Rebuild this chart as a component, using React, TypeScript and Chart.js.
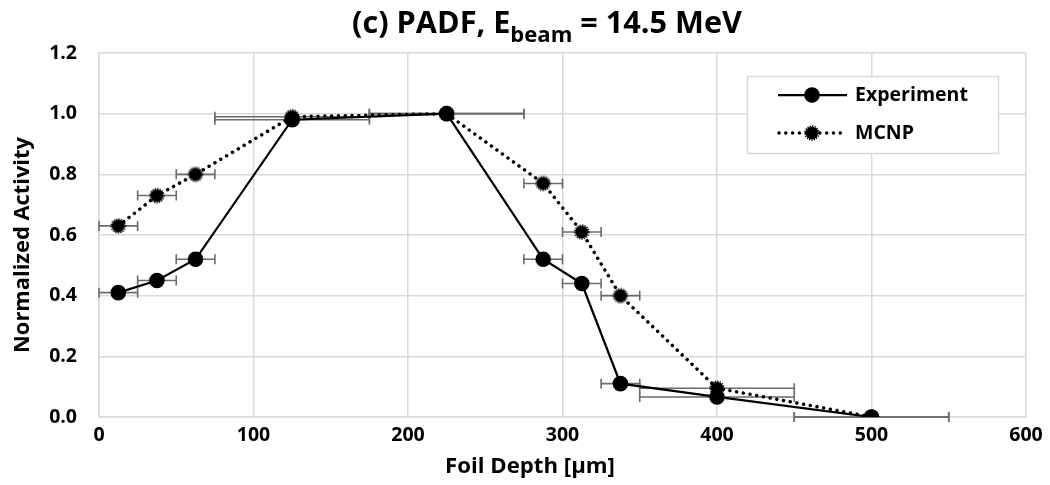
import React, { useEffect, useRef } from 'react';
import { Chart, registerables } from 'chart.js';

Chart.register(...registerables);

const depth = [12.5, 37.5, 62.5, 125, 225, 287.5, 312.5, 337.5, 400, 500];
const depthErr = [12.5, 12.5, 12.5, 50, 50, 12.5, 12.5, 12.5, 50, 50];
const experiment = [0.41, 0.45, 0.52, 0.98, 1.0, 0.52, 0.44, 0.11, 0.066, 0.0];
const mcnp = [0.63, 0.73, 0.8, 0.99, 1.0, 0.77, 0.61, 0.4, 0.095, 0.0];
const seriesNames = ['Experiment', 'MCNP'];
const titleParts = ['(c) PADF, E', 'beam', ' = 14.5 MeV'];
const xAxisTitle = 'Foil Depth [µm]';
const yAxisTitle = 'Normalized Activity';

const FONT = '"Open Sans", Lato, sans-serif';
const ERR_COLOR = '#6b6b6b';
const GRID = '#d9d9d9';
const DOT_DASH = [0.01, 6.8];

function makeJaggedMarker(): HTMLCanvasElement {
  const c = document.createElement('canvas');
  c.width = 18;
  c.height = 18;
  const g = c.getContext('2d')!;
  g.fillStyle = '#000';
  g.beginPath();
  g.arc(9, 9, 6.3, 0, Math.PI * 2);
  g.fill();
  g.strokeStyle = '#000';
  g.lineWidth = 1.6;
  g.setLineDash([1.3, 1.2]);
  g.beginPath();
  g.arc(9, 9, 6.9, 0, Math.PI * 2);
  g.stroke();
  return c;
}

function fitSize(ctx: CanvasRenderingContext2D, text: string, target: number): number {
  ctx.font = `bold 20px ${FONT}`;
  const w = ctx.measureText(text).width;
  return (20 * target) / w;
}

export default function App() {
  const ref = useRef<HTMLCanvasElement | null>(null);

  useEffect(() => {
    if (!ref.current) return;
    const marker = makeJaggedMarker();

    const errorBars = {
      id: 'errorBars',
      beforeDatasetsDraw(chart: any) {
        const ctx = chart.ctx;
        const xs = chart.scales.x;
        const ys = chart.scales.y;
        ctx.save();
        ctx.strokeStyle = ERR_COLOR;
        ctx.lineWidth = 1.6;
        [experiment, mcnp].forEach((vals) => {
          vals.forEach((v, i) => {
            const y = ys.getPixelForValue(v);
            const x1 = xs.getPixelForValue(depth[i] - depthErr[i]);
            const x2 = xs.getPixelForValue(depth[i] + depthErr[i]);
            ctx.beginPath();
            ctx.moveTo(x1, y);
            ctx.lineTo(x2, y);
            ctx.moveTo(x1, y - 5);
            ctx.lineTo(x1, y + 5);
            ctx.moveTo(x2, y - 5);
            ctx.lineTo(x2, y + 5);
            ctx.stroke();
          });
        });
        ctx.restore();
      },
    };

    const decorations = {
      id: 'decorations',
      afterDraw(chart: any) {
        const ctx = chart.ctx as CanvasRenderingContext2D;
        ctx.save();
        ctx.fillStyle = '#000';
        ctx.textBaseline = 'alphabetic';
        // Title (composite, fitted to the reference width)
        const measureAt = (s: number) => {
          ctx.font = `bold ${s}px ${FONT}`;
          const a = ctx.measureText(titleParts[0]).width;
          const c = ctx.measureText(titleParts[2]).width;
          ctx.font = `bold ${s * 0.72}px ${FONT}`;
          const b = ctx.measureText(titleParts[1]).width;
          return [a, b, c];
        };
        const base = measureAt(20);
        const bigSize = (20 * 390) / (base[0] + base[1] + base[2]);
        const [w1, w2, w3] = measureAt(bigSize);
        const big = `bold ${bigSize}px ${FONT}`;
        const small = `bold ${bigSize * 0.72}px ${FONT}`;
        let tx = 547 - (w1 + w2 + w3) / 2;
        ctx.textAlign = 'left';
        ctx.font = big;
        ctx.fillText(titleParts[0], tx, 33);
        tx += w1;
        ctx.font = small;
        ctx.fillText(titleParts[1], tx, 42);
        tx += w2;
        ctx.font = big;
        ctx.fillText(titleParts[2], tx, 33);

        // Axis titles
        ctx.textAlign = 'center';
        ctx.textBaseline = 'middle';
        ctx.font = `bold ${fitSize(ctx, xAxisTitle, 170)}px ${FONT}`;
        ctx.fillText(xAxisTitle, 530, 467);
        ctx.save();
        ctx.translate(23, 245);
        ctx.rotate(-Math.PI / 2);
        ctx.font = `bold ${fitSize(ctx, yAxisTitle, 216)}px ${FONT}`;
        ctx.fillText(yAxisTitle, 0, 0);
        ctx.restore();

        // Legend
        ctx.fillStyle = '#fff';
        ctx.fillRect(747.5, 76.5, 251, 77);
        ctx.strokeStyle = GRID;
        ctx.lineWidth = 1.5;
        ctx.strokeRect(747.5, 76.5, 251, 77);
        const rows = [95, 133];
        ctx.strokeStyle = '#000';
        ctx.lineWidth = 2.25;
        ctx.beginPath();
        ctx.moveTo(778, rows[0]);
        ctx.lineTo(847, rows[0]);
        ctx.stroke();
        ctx.fillStyle = '#000';
        ctx.beginPath();
        ctx.arc(812, rows[0], 7.8, 0, Math.PI * 2);
        ctx.fill();
        ctx.lineWidth = 3.5;
        ctx.lineCap = 'round';
        ctx.setLineDash(DOT_DASH);
        ctx.beginPath();
        ctx.moveTo(779, rows[1]);
        ctx.lineTo(847, rows[1]);
        ctx.stroke();
        ctx.setLineDash([]);
        ctx.drawImage(marker, 812 - 9, rows[1] - 9);
        ctx.font = `bold ${fitSize(ctx, seriesNames[0], 113)}px ${FONT}`;
        ctx.textAlign = 'left';
        ctx.textBaseline = 'middle';
        ctx.fillText(seriesNames[0], 855, rows[0]);
        ctx.fillText(seriesNames[1], 855, rows[1]);
        ctx.restore();
      },
    };

    const chart = new Chart(ref.current, {
      type: 'line',
      data: {
        datasets: [
          {
            label: seriesNames[0],
            data: depth.map((x, i) => ({ x, y: experiment[i] })),
            borderColor: '#000',
            backgroundColor: '#000',
            borderWidth: 2.25,
            pointRadius: 7.8,
            pointBorderWidth: 0,
            pointBackgroundColor: '#000',
            tension: 0,
          },
          {
            label: seriesNames[1],
            data: depth.map((x, i) => ({ x, y: mcnp[i] })),
            borderColor: '#000',
            backgroundColor: '#000',
            borderWidth: 3.5,
            borderDash: DOT_DASH,
            borderCapStyle: 'round',
            pointStyle: marker,
            pointRadius: 7,
            tension: 0,
          },
        ],
      },
      plugins: [errorBars, decorations],
      options: {
        animation: false,
        responsive: false,
        maintainAspectRatio: false,
        layout: { padding: { top: 53, right: 24, left: 0, bottom: 0 } },
        plugins: {
          legend: { display: false },
          title: { display: false },
          tooltip: { enabled: false },
        },
        scales: {
          x: {
            type: 'linear',
            min: 0,
            max: 600,
            ticks: {
              stepSize: 100,
              color: '#000',
              padding: 7,
              font: { family: FONT, size: 19.5, weight: 'bold' },
              maxRotation: 0,
            },
            grid: { color: GRID, lineWidth: 1.5, drawTicks: false },
            border: { color: GRID, width: 1.5 },
            afterFit(scale: any) {
              scale.height = 68;
            },
          },
          y: {
            type: 'linear',
            min: 0,
            max: 1.2,
            ticks: {
              stepSize: 0.2,
              color: '#000',
              padding: 22,
              font: { family: FONT, size: 19.5, weight: 'bold' },
              callback: (v: any) => Number(v).toFixed(1),
            },
            grid: { color: GRID, lineWidth: 1.5, drawTicks: false },
            border: { color: GRID, width: 1.5 },
            afterFit(scale: any) {
              scale.width = 99;
            },
          },
        },
      },
    });
    return () => chart.destroy();
  }, []);

  return (
    <div style={{ position: 'fixed', left: 0, top: 0, width: 1050, height: 485, background: '#fff' }}>
      <canvas ref={ref} width={1050} height={485} style={{ width: 1050, height: 485 }} />
    </div>
  );
}
